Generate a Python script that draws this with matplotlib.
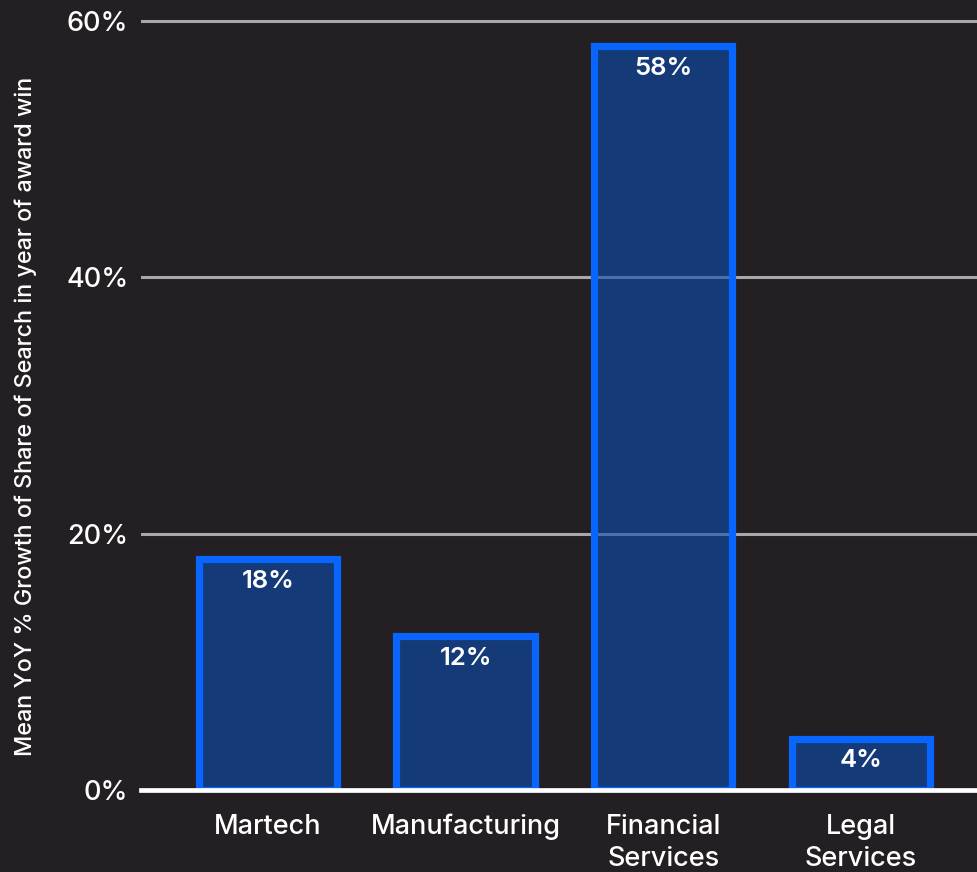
import matplotlib
matplotlib.use("Agg")
import matplotlib.pyplot as plt

categories = ["Martech", "Manufacturing", "Financial\nServices", "Legal\nServices"]
values = [18, 12, 58, 4]
yticks = [0, 20, 40, 60]
ytick_labels = ["0%", "20%", "40%", "60%"]
ylabel = "Mean YoY % Growth of Share of Search in year of award win"

bg = "#231f22"
plt.rcParams["font.family"] = ["Inter", "DejaVu Sans"]

fig = plt.figure(figsize=(9.77, 8.72), dpi=100, facecolor=bg)
ax = fig.add_axes([0.1443, 0.094, 1 - 0.1443, 1 - 0.094])
ax.set_facecolor(bg)

x = range(len(categories))
ax.bar(x, values, width=0.70, color=(0.043, 0.30, 0.69, 0.6),
       edgecolor="#0866ff", linewidth=5.2, zorder=3)

for xi, v in zip(x, values):
    ax.annotate(f"{v}%", (xi, v), xytext=(0, -16), textcoords="offset points",
                ha="center", va="center", color="white", fontsize=18.5,
                fontweight="semibold", zorder=5)

ax.set_xlim(-0.642, 3.587)
ax.set_ylim(0, 61.6)
ax.set_yticks(yticks)
ax.set_yticklabels(ytick_labels)
ax.set_xticks(list(x))
ax.set_xticklabels(categories, linespacing=1.3)

for y in yticks[1:]:
    ax.axhline(y, color="#a8a8a8", linewidth=2.2, zorder=2)
ax.axhline(0, color="white", linewidth=3.4, zorder=4, clip_on=False)

for s in ax.spines.values():
    s.set_visible(False)
ax.tick_params(axis="both", length=0, colors="white", labelsize=19.5)
ax.tick_params(axis="y", pad=9)
ax.tick_params(axis="x", pad=17)
for lbl in ax.get_xticklabels() + ax.get_yticklabels():
    lbl.set_fontweight("medium")

fig.text(0.026, 0.523, ylabel, rotation=90, ha="center", va="center",
         color="white", fontsize=16.8, fontweight="medium")

fig.savefig("out.png", dpi=100, facecolor=bg)
